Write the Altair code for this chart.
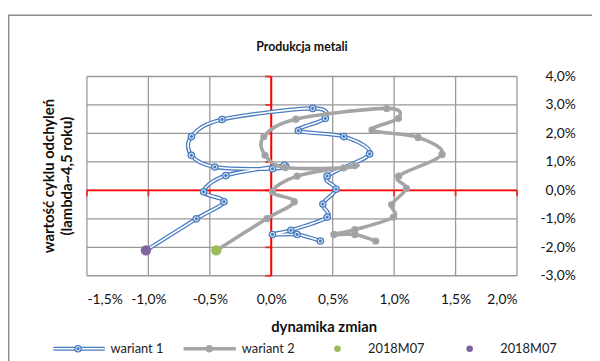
import altair as alt
import pandas as pd

# ---- data (percent) ----
w1_x = [0.40, 0.21, 0.01, 0.16, 0.455, 0.42, 0.527, 0.455, 0.80, 0.59, 0.22, 0.44, 0.337,
        -0.40, -0.65, -0.65, -0.46, 0.01, 0.107, -0.37, -0.55, -0.385, -0.61, -1.02]
w1_y = [-1.78, -1.55, -1.55, -1.40, -0.94, -0.48, 0.04, 0.50, 1.28, 1.89, 2.10, 2.53, 2.88,
        2.49, 1.89, 1.23, 0.82, 0.76, 0.88, 0.52, -0.05, -0.40, -1.00, -2.11]
w2_x = [0.85, 0.68, 0.51, 0.68, 0.995, 0.98, 1.10, 1.037, 1.39, 1.195, 0.82, 1.035, 0.94,
        0.20, -0.06, -0.05, 0.115, 0.59, 0.68, 0.21, 0.01, 0.187, -0.035, -0.447]
w2_y = [-1.78, -1.55, -1.55, -1.38, -0.94, -0.50, 0.07, 0.50, 1.26, 1.86, 2.12, 2.53, 2.88,
        2.50, 1.89, 1.23, 0.80, 0.79, 0.87, 0.50, -0.05, -0.40, -0.99, -2.11]
m_w1 = {"x": -1.02, "y": -2.11}   # 2018M07 (wariant 1)
m_w2 = {"x": -0.447, "y": -2.11}  # 2018M07 (wariant 2)

x_ticks = [-1.5, -1.0, -0.5, 0.0, 0.5, 1.0, 1.5, 2.0]
y_ticks = [-3.0, -2.0, -1.0, 0.0, 1.0, 2.0, 3.0, 4.0]

df1 = pd.DataFrame({"x": w1_x, "y": w1_y, "i": list(range(len(w1_x)))})
df2 = pd.DataFrame({"x": w2_x, "y": w2_y, "i": list(range(len(w2_x)))})
dfm1 = pd.DataFrame([m_w1])
dfm2 = pd.DataFrame([m_w2])
dfxt = pd.DataFrame({"x": x_ticks, "y": [0.0] * len(x_ticks)})
dfyt = pd.DataFrame({"y": y_ticks, "x": [0.0] * len(y_ticks)})
dfz = pd.DataFrame({"x": [0.0], "y": [0.0]})

FONT = "Lato"
GRID = "#999999"
pct = "(datum.value < 0 ? '-' : '') + replace(format(abs(datum.value), '.1f'), '.', ',') + '%'"

X = alt.X("x:Q", scale=alt.Scale(domain=[-1.5, 2.0], nice=False, zero=False),
          axis=alt.Axis(values=x_ticks, labelExpr=pct, grid=False,
                        ticks=False, tickSize=0, domain=False, labelFont=FONT, labelFontSize=14,
                        labelColor="#111", labelPadding=17, labelOverlap=False,
                        title="dynamika zmian", titleFont=FONT, titleFontSize=15,
                        titleFontWeight="bold", titleColor="#111", titleX=240, titleY=51,
                        titleAlign="center", titleBaseline="middle"))
Y = alt.Y("y:Q", scale=alt.Scale(domain=[-3, 4], nice=False, zero=False),
          axis=alt.Axis(orient="right", values=y_ticks, labelExpr=pct, grid=False,
                        ticks=False, tickSize=0, domain=False, labelFont=FONT,
                        labelFontSize=14, labelColor="#111", labelAlign="right",
                        labelBaseline="middle", labelPadding=59, labelOverlap=False,
                        title=None))

one = alt.Data(values=[{}])

grid_v = alt.Chart(dfxt).mark_rule(color=GRID, strokeWidth=1.3).encode(x=X)
grid_h = alt.Chart(dfyt).mark_rule(color=GRID, strokeWidth=1.3).encode(y=Y)

frame = alt.Chart(one).mark_rect(filled=False, fillOpacity=0, stroke="#8c8c8c",
                                 strokeWidth=1.5).encode(
    x=alt.value(-79.3), y=alt.value(-62), x2=alt.value(600), y2=alt.value(400))

title = alt.Chart(one).mark_text(text="Produkcja metali", font=FONT, fontSize=12.5,
                                 fontWeight="bold", color="#111", align="center",
                                 baseline="middle").encode(x=alt.value(218), y=alt.value(-30))
ytitle1 = alt.Chart(one).mark_text(text="wartość cyklu odchyleń", font=FONT, fontSize=15,
                                   fontWeight="bold", color="#111", align="center",
                                   baseline="middle", angle=270).encode(
    x=alt.value(-38), y=alt.value(101))
ytitle2 = alt.Chart(one).mark_text(text="(lambda~4,5 roku)", font=FONT, fontSize=15,
                                   fontWeight="bold", color="#111", align="center",
                                   baseline="middle", angle=270).encode(
    x=alt.value(-20), y=alt.value(101))

zero_v = alt.Chart(dfz).mark_rule(color="#ff0000", strokeWidth=2).encode(x=X)
zero_h = alt.Chart(dfz).mark_rule(color="#ff0000", strokeWidth=2).encode(y=Y)
ticks_h = alt.Chart(dfyt).mark_tick(color="#ff0000", orient="horizontal", size=6, thickness=2,
                                    xOffset=-3).encode(x=X, y=Y)
ticks_v = alt.Chart(dfxt).mark_tick(color="#ff0000", orient="vertical", size=6, thickness=2,
                                    yOffset=3).encode(x=X, y=Y)

BLUE = "#4a7cc0"
GRAY = "#a5a5a5"
b_out = alt.Chart(df1).mark_line(color=BLUE, strokeWidth=4.2, interpolate="cardinal").encode(
    x=X, y=Y, order="i:Q")
b_in = alt.Chart(df1).mark_line(color="white", strokeWidth=1.6, interpolate="cardinal").encode(
    x=X, y=Y, order="i:Q")
b_pt = alt.Chart(df1).mark_circle(color=BLUE, size=60, opacity=1).encode(x=X, y=Y)
b_pt2 = alt.Chart(df1).mark_point(color="white", size=18, strokeWidth=0.9, opacity=1).encode(x=X, y=Y)

g_ln = alt.Chart(df2).mark_line(color=GRAY, strokeWidth=3.6, interpolate="cardinal").encode(
    x=X, y=Y, order="i:Q")
g_pt = alt.Chart(df2).mark_circle(color=GRAY, size=55, opacity=1).encode(x=X, y=Y)
g_pt2 = alt.Chart(df2).mark_circle(color="#8a9ab0", size=5, opacity=1).encode(x=X, y=Y)

p_m1 = alt.Chart(dfm1).mark_circle(color="#8064a2", size=110, opacity=1).encode(x=X, y=Y)
p_m2 = alt.Chart(dfm2).mark_circle(color="#9bbb59", size=110, opacity=1).encode(x=X, y=Y)

# ---- legend (manual) ----
LY = 276
leg = [
    alt.Chart(one).mark_rule(color=BLUE, strokeWidth=4.2).encode(
        x=alt.value(-34), x2=alt.value(18), y=alt.value(LY)),
    alt.Chart(one).mark_rule(color="white", strokeWidth=1.6).encode(
        x=alt.value(-34), x2=alt.value(18), y=alt.value(LY)),
    alt.Chart(one).mark_circle(color=BLUE, size=60, opacity=1).encode(
        x=alt.value(-9), y=alt.value(LY)),
    alt.Chart(one).mark_point(color="white", size=18, strokeWidth=0.9, opacity=1).encode(
        x=alt.value(-9), y=alt.value(LY)),
    alt.Chart(one).mark_text(text="wariant 1", align="left", baseline="middle", font=FONT,
                             fontSize=13, color="#222").encode(x=alt.value(24), y=alt.value(LY)),
    alt.Chart(one).mark_rule(color=GRAY, strokeWidth=3.6).encode(
        x=alt.value(98), x2=alt.value(151), y=alt.value(LY)),
    alt.Chart(one).mark_circle(color=GRAY, size=55, opacity=1).encode(
        x=alt.value(124), y=alt.value(LY)),
    alt.Chart(one).mark_text(text="wariant 2", align="left", baseline="middle", font=FONT,
                             fontSize=13, color="#222").encode(x=alt.value(157), y=alt.value(LY)),
    alt.Chart(one).mark_circle(color="#9bbb59", size=45, opacity=1).encode(
        x=alt.value(254), y=alt.value(LY)),
    alt.Chart(one).mark_text(text="2018M07", align="left", baseline="middle", font=FONT,
                             fontSize=13, color="#222").encode(x=alt.value(285), y=alt.value(LY)),
    alt.Chart(one).mark_circle(color="#8064a2", size=45, opacity=1).encode(
        x=alt.value(388), y=alt.value(LY)),
    alt.Chart(one).mark_text(text="2018M07", align="left", baseline="middle", font=FONT,
                             fontSize=13, color="#222").encode(x=alt.value(419), y=alt.value(LY)),
]

chart = alt.layer(
    grid_v, grid_h, zero_v, zero_h, ticks_h, ticks_v,
    b_out, b_in, b_pt, b_pt2, g_ln, g_pt, g_pt2, p_m1, p_m2, frame, title,
    ytitle1, ytitle2, *leg
).properties(
    width=436, height=202,
    autosize=alt.AutoSizeParams(type="none"),
    padding={"left": 80, "top": 67, "right": 76, "bottom": 86},
    background="white",
).configure_view(stroke=None)

chart.save("out.html", embed_options={"renderer": "svg", "actions": False})
